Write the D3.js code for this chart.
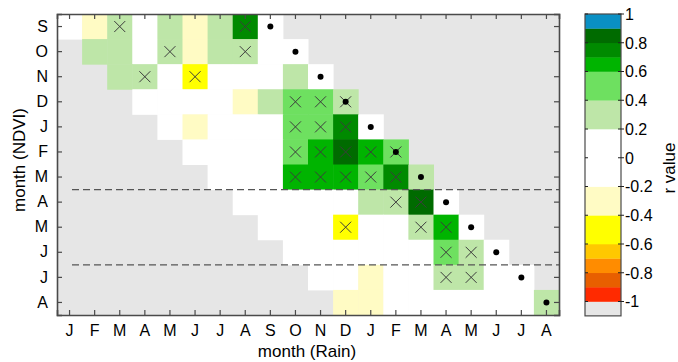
<!DOCTYPE html>
<html>
<head>
<meta charset="utf-8">
<script src="https://cdn.jsdelivr.net/npm/d3@7"></script>
<style>
  html, body { margin: 0; padding: 0; background: #fff; }
  svg { display: block; font-family: "Liberation Sans", Arial, Helvetica, sans-serif; }
</style>
</head>
<body>
<svg id="chart" width="678" height="362"></svg>
<script>
// ---------- DATA ----------
const rainMonths = ["J","F","M","A","M","J","J","A","S","O","N","D","J","F","M","A","M","J","J","A"];
const ndviMonths = ["S","O","N","D","J","F","M","A","M","J","J","A"];
const _ = null; // no data (grey)
// r values, one row per NDVI month (top to bottom), one column per rain month
const rValues = [
  [0.05,-0.25,0.30,0.05,0.30,-0.25,0.30,0.75,0.00,_,_,_,_,_,_,_,_,_,_,_],
  [_,0.30,0.30,0.05,0.30,-0.25,0.30,0.30,0.05,0.00,_,_,_,_,_,_,_,_,_,_],
  [_,_,0.30,0.30,0.05,-0.50,0.05,0.05,0.05,0.30,0.00,_,_,_,_,_,_,_,_,_],
  [_,_,_,0.05,0.05,0.05,0.05,-0.25,0.30,0.50,0.50,0.30,_,_,_,_,_,_,_,_],
  [_,_,_,_,0.05,-0.25,0.05,0.05,0.05,0.50,0.50,0.75,0.00,_,_,_,_,_,_,_],
  [_,_,_,_,_,0.05,0.05,0.05,0.05,0.50,0.65,0.85,0.65,0.50,_,_,_,_,_,_],
  [_,_,_,_,_,_,0.05,0.05,0.05,0.65,0.65,0.65,0.50,0.75,0.30,_,_,_,_,_],
  [_,_,_,_,_,_,_,0.05,0.05,0.05,0.05,0.05,0.30,0.30,0.85,0.00,_,_,_,_],
  [_,_,_,_,_,_,_,_,0.05,0.05,0.05,-0.50,0.05,0.05,0.30,0.65,0.00,_,_,_],
  [_,_,_,_,_,_,_,_,_,0.05,0.05,0.05,0.05,0.05,0.05,0.50,0.30,0.00,_,_],
  [_,_,_,_,_,_,_,_,_,_,0.05,0.05,-0.25,0.05,0.05,0.30,0.30,0.05,0.00,_],
  [_,_,_,_,_,_,_,_,_,_,_,-0.25,-0.25,0.05,0.05,0.05,0.05,0.05,0.05,0.30]
];
// significance (1 = cross marker)
const significant = [
  [0,0,1,0,0,0,0,1,0,0,0,0,0,0,0,0,0,0,0,0],
  [0,0,0,0,1,0,0,1,0,0,0,0,0,0,0,0,0,0,0,0],
  [0,0,0,1,0,1,0,0,0,0,0,0,0,0,0,0,0,0,0,0],
  [0,0,0,0,0,0,0,0,0,1,1,1,0,0,0,0,0,0,0,0],
  [0,0,0,0,0,0,0,0,0,1,1,1,0,0,0,0,0,0,0,0],
  [0,0,0,0,0,0,0,0,0,1,1,1,1,1,0,0,0,0,0,0],
  [0,0,0,0,0,0,0,0,0,1,1,1,1,1,0,0,0,0,0,0],
  [0,0,0,0,0,0,0,0,0,0,0,0,0,1,1,0,0,0,0,0],
  [0,0,0,0,0,0,0,0,0,0,0,1,0,0,1,1,0,0,0,0],
  [0,0,0,0,0,0,0,0,0,0,0,0,0,0,0,1,1,0,0,0],
  [0,0,0,0,0,0,0,0,0,0,0,0,0,0,0,1,1,0,0,0],
  [0,0,0,0,0,0,0,0,0,0,0,0,0,0,0,0,0,0,0,0]
];
// rain column index that equals the NDVI month (same-month dot)
const sameMonthCol = [8,9,10,11,12,13,14,15,16,17,18,19];
// season separators: boundary before these NDVI row indices
const separatorRows = [7, 10];
const colorThresholds = [-0.9,-0.8,-0.7,-0.6,-0.4,-0.2,0.2,0.4,0.6,0.7,0.8,0.9];
const colorLevels = ["#ff2a00","#e85f00","#ff8c00","#ffc800","#ffff00","#fffbc4","#ffffff",
                     "#bee6a8","#6ee060","#00b400","#008a00","#006b00","#0a90c4"];
const colorbarTicks = [1,0.8,0.6,0.4,0.2,0,-0.2,-0.4,-0.6,-0.8,-1];
const missingColor = "#e6e6e6";

// ---------- LAYOUT ----------
const svg = d3.select("#chart");
const plot = {x0: 57, x1: 559, y0: 14, y1: 315};
const xs = d3.scaleBand().domain(d3.range(rainMonths.length)).range([plot.x0, plot.x1]);
const ys = d3.scaleBand().domain(d3.range(ndviMonths.length)).range([plot.y0, plot.y1]);
const color = d3.scaleThreshold().domain(colorThresholds).range(colorLevels);

// background (missing data)
svg.append("rect").attr("x", plot.x0).attr("y", plot.y0)
  .attr("width", plot.x1 - plot.x0).attr("height", plot.y1 - plot.y0)
  .attr("fill", missingColor);

const cells = [];
rValues.forEach((row, i) => row.forEach((v, j) => {
  if (v !== null) cells.push({i, j, v, sig: significant[i][j]});
}));

svg.append("g").selectAll("rect").data(cells).join("rect")
  .attr("x", d => xs(d.j)).attr("y", d => ys(d.i))
  .attr("width", xs.bandwidth() + 0.5).attr("height", ys.bandwidth() + 0.5)
  .attr("fill", d => color(d.v));

// crosses
const s = 5.5;
svg.append("g").selectAll("path").data(cells.filter(d => d.sig)).join("path")
  .attr("d", d => {
    const cx = xs(d.j) + xs.bandwidth() / 2, cyy = ys(d.i) + ys.bandwidth() / 2;
    return `M${cx - s},${cyy - s}L${cx + s},${cyy + s}M${cx - s},${cyy + s}L${cx + s},${cyy - s}`;
  })
  .attr("stroke", "#3c3c3c").attr("stroke-width", 1).attr("fill", "none");

// same-month dots
svg.append("g").selectAll("circle").data(sameMonthCol).join("circle")
  .attr("cx", (c) => xs(c) + xs.bandwidth() / 2)
  .attr("cy", (c, i) => ys(i) + ys.bandwidth() / 2)
  .attr("r", 3).attr("fill", "#000");

// dashed separators
svg.append("g").selectAll("line").data(separatorRows).join("line")
  .attr("x1", plot.x0 + 15).attr("x2", plot.x1)
  .attr("y1", d => ys(d)).attr("y2", d => ys(d))
  .attr("stroke", "#555").attr("stroke-width", 1.4).attr("stroke-dasharray", "7,4");

// axes (ticks inward)
const tickLen = 5;
const axisColor = "#4a4a4a";
const gBottom = svg.append("g").attr("transform", `translate(0,${plot.y1})`)
  .call(d3.axisBottom(xs).tickSize(-tickLen).tickPadding(10).tickFormat(i => rainMonths[i]));
const gTop = svg.append("g").attr("transform", `translate(0,${plot.y0})`)
  .call(d3.axisTop(xs).tickSize(-tickLen).tickFormat(""));
const gLeft = svg.append("g").attr("transform", `translate(${plot.x0},0)`)
  .call(d3.axisLeft(ys).tickSize(-tickLen).tickPadding(9).tickFormat(i => ndviMonths[i]));
const gRight = svg.append("g").attr("transform", `translate(${plot.x1},0)`)
  .call(d3.axisRight(ys).tickSize(-tickLen).tickFormat(""));
[gBottom, gTop, gLeft, gRight].forEach(g => {
  g.select(".domain").attr("stroke", axisColor).attr("stroke-width", 1.6);
  g.selectAll(".tick line").attr("stroke", axisColor).attr("stroke-width", 1.2);
  g.selectAll(".tick text").attr("fill", "#000").style("font-size", "16px")
    .style("font-family", "'Liberation Sans', Arial, sans-serif");
});
gBottom.selectAll(".tick text").attr("dy", "0.71em");

// axis titles
svg.append("text").attr("x", 307).attr("y", 357).attr("text-anchor", "middle")
  .style("font-size", "17px").text("month (Rain)");
svg.append("text").attr("transform", "translate(25,160) rotate(-90)").attr("text-anchor", "middle")
  .style("font-size", "17px").text("month (NDVI)");

// ---------- COLORBAR ----------
const cb = {x0: 585, x1: 621};
const cbY = d3.scaleLinear().domain([-1, 1]).range([301.5, 14]);
const bounds = [-1].concat(colorThresholds, [1]);
const segs = d3.range(bounds.length - 1).map(k => ({lo: bounds[k], hi: bounds[k + 1]}));
const cbg = svg.append("g");
cbg.append("rect").attr("x", cb.x0).attr("y", cbY(-1)).attr("width", cb.x1 - cb.x0)
  .attr("height", cbY(-1.1) - cbY(-1)).attr("fill", missingColor);
cbg.selectAll("rect.seg").data(segs).join("rect").attr("class", "seg")
  .attr("x", cb.x0).attr("y", d => cbY(d.hi)).attr("width", cb.x1 - cb.x0)
  .attr("height", d => cbY(d.lo) - cbY(d.hi) + 0.3)
  .attr("fill", d => color((d.lo + d.hi) / 2));
cbg.append("rect").attr("x", cb.x0).attr("y", cbY(1)).attr("width", cb.x1 - cb.x0)
  .attr("height", cbY(-1.1) - cbY(1)).attr("fill", "none")
  .attr("stroke", axisColor).attr("stroke-width", 1.2);
cbg.selectAll("line.tl").data(colorbarTicks).join("line").attr("class", "tl")
  .attr("x1", cb.x0).attr("x2", cb.x0 + 3).attr("y1", d => cbY(d)).attr("y2", d => cbY(d))
  .attr("stroke", "#222");
cbg.selectAll("line.tr").data(colorbarTicks).join("line").attr("class", "tr")
  .attr("x1", cb.x1 - 3).attr("x2", cb.x1 + 3).attr("y1", d => cbY(d)).attr("y2", d => cbY(d))
  .attr("stroke", "#222");
cbg.selectAll("text").data(colorbarTicks).join("text")
  .attr("x", cb.x1 + 4).attr("y", d => cbY(d)).attr("dy", "0.36em")
  .style("font-size", "16px").text(d => d === 0 ? "0" : String(d));
svg.append("text").attr("transform", "translate(675,168) rotate(-90)").attr("text-anchor", "middle")
  .style("font-size", "17px").text("r value");
</script>
</body>
</html>
